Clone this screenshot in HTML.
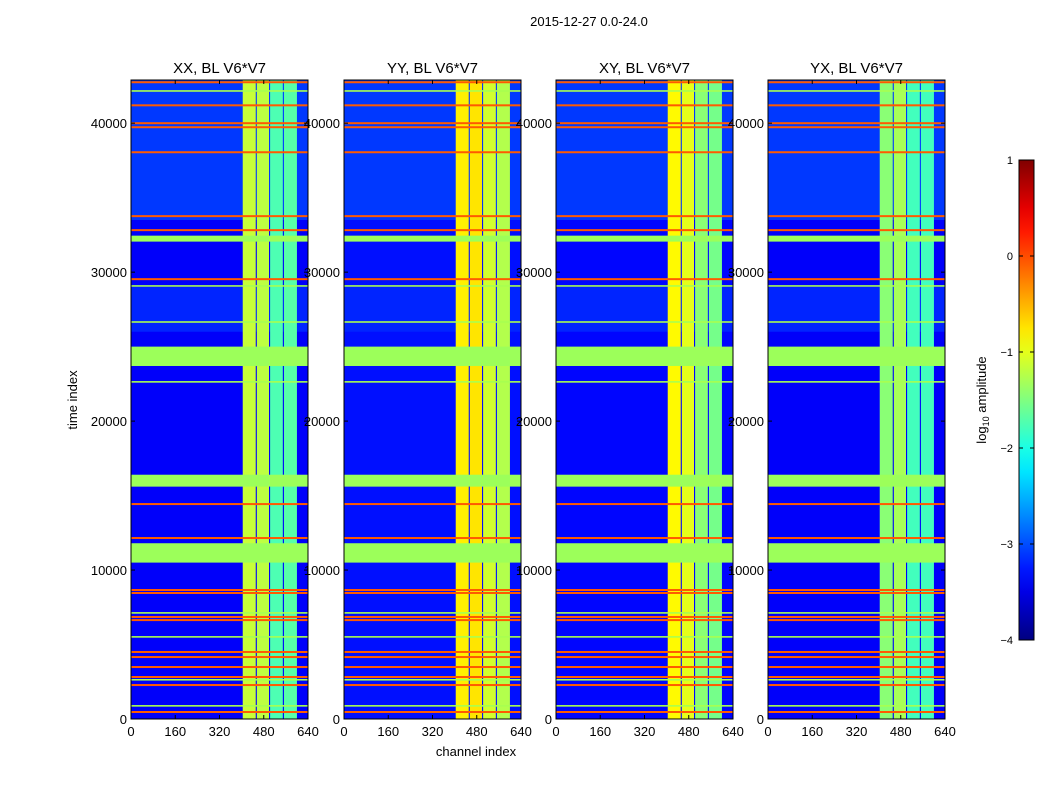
<!DOCTYPE html>
<html><head><meta charset="utf-8">
<style>
body{margin:0;background:#fff;width:1050px;height:800px;overflow:hidden;font-family:"Liberation Sans",sans-serif}
svg text{font-family:"Liberation Sans",sans-serif;fill:#000}
</style></head>
<body>
<svg id="fig" width="1050" height="800">
<text x="589" y="26" font-size="13" text-anchor="middle">2015-12-27 0.0-24.0</text>
<text x="476" y="756" font-size="13" text-anchor="middle">channel index</text>
<text x="77" y="400" font-size="13" text-anchor="middle" transform="rotate(-90 77 400)">time index</text>
<g id="panels"></g>
<g id="cbar"></g>
</svg>
<script>
const panelTitles=["XX, BL V6*V7","YY, BL V6*V7","XY, BL V6*V7","YX, BL V6*V7"];
const panelLefts=[131,344,556,768];
const xTicks=[0,160,320,480,640];
const yTicks=[0,10000,20000,30000,40000];
const bgLevel=[-3.4,-3.3,-3.35,-3.4];
const bgSegments=[[33500,42900,-3.1],[26000,29000,-3.2]];
const chanBands=[[404,451],[455,499],[503,549],[553,600]];
const bandLevels=[[-1.15,-1.2,-1.75,-1.7],[-0.8,-0.75,-1.1,-1.25],[-0.85,-1.0,-1.45,-1.55],[-1.45,-1.3,-1.8,-1.8]];
const rfiOrange=[42750,41200,40000,39730,38050,33760,32820,29530,14430,12150,8660,8460,6850,6640,4500,4160,3490,2820,2280,470];
const rfiGreen=[42150,29060,26640,22620,7110,5500,2620,870];
const flagged=[[32050,32450],[23700,25000],[15600,16400],[10500,11800]];
const cbTicks=[1,0,-1,-2,-3,-4];
const cbTickLabels=["1","0","\u22121","\u22122","\u22123","\u22124"];

const TMAX=42900,TOP=80,BOT=719,W=177;
const yS=t=>BOT-(t/TMAX)*(BOT-TOP);
const NS="http://www.w3.org/2000/svg";
function jet(v){let x=(v+4)/5;x=Math.max(0,Math.min(1,x));
 const c=f=>Math.round(255*Math.max(0,Math.min(1,f)));
 const r=c(Math.min(4*x-1.5,-4*x+4.5)),g=c(Math.min(4*x-0.5,-4*x+3.5)),b=c(Math.min(4*x+0.5,-4*x+2.5));
 return `rgb(${r},${g},${b})`;}
function el(tag,attrs,parent){const e=document.createElementNS(NS,tag);for(const k in attrs)e.setAttribute(k,attrs[k]);parent.appendChild(e);return e;}
const panels=document.getElementById('panels');
panelLefts.forEach((L,p)=>{
 const xS=ch=>L+ch/640*W;
 const g=el('g',{},panels);
 
 
 const bg=el('rect',{x:L,y:TOP,width:W,height:BOT-TOP,fill:jet(bgLevel[p])},g);
 
 
 bgSegments.forEach(s=>{const r=el('rect',{x:L,y:yS(s[1]),width:W,height:yS(s[0])-yS(s[1]),fill:jet(s[2])},g);
  
  });
 chanBands.forEach((b,i)=>{const r=el('rect',{x:xS(b[0]),y:TOP,width:xS(b[1])-xS(b[0]),height:BOT-TOP,fill:jet(bandLevels[p][i])},g);
  
  });
 rfiGreen.forEach(t=>{const r=el('rect',{x:L,y:yS(t)-1,width:W,height:1.6,fill:'#a8ff50'},g);
  
  });
 rfiOrange.forEach(t=>{const r=el('rect',{x:L,y:yS(t)-1,width:W,height:2,fill:'#ff5a00'},g);
  
  });
 flagged.forEach(f=>{const r=el('rect',{x:L,y:yS(f[1]),width:W,height:yS(f[0])-yS(f[1]),fill:'#9cff5a'},g);
  
  });
 el('rect',{x:L,y:TOP,width:W,height:BOT-TOP,fill:'none',stroke:'#000','stroke-width':1},g);
 const tt=el('text',{x:L+W/2,y:73,'font-size':15,'text-anchor':'middle'},g);tt.textContent=panelTitles[p];
 
 
 xTicks.forEach(v=>{const x=xS(v);el('line',{x1:x,x2:x,y1:BOT,y2:BOT-4,stroke:'#000'},g);el('line',{x1:x,x2:x,y1:TOP,y2:TOP+4,stroke:'#000'},g);
  const t=el('text',{x:x,y:BOT+17,'font-size':13,'text-anchor':'middle'},g);t.textContent=v;
  
  });
 yTicks.forEach(v=>{const y=yS(v);el('line',{x1:L,x2:L+4,y1:y,y2:y,stroke:'#000'},g);el('line',{x1:L+W,x2:L+W-4,y1:y,y2:y,stroke:'#000'},g);
  const t=el('text',{x:L-4,y:y+5,'font-size':13,'text-anchor':'end'},g);t.textContent=v;
  
  });
});
const cb=document.getElementById('cbar');
const CT=160,CB=640,CX=1019,CW=15;
const cyS=v=>CB-(v+4)/5*(CB-CT);
const defs=el('defs',{},cb);
const gr=el('linearGradient',{id:'jetg',x1:0,y1:1,x2:0,y2:0},defs);
for(let i=0;i<=20;i++){const v=-4+i*5/20;el('stop',{offset:i/20,'stop-color':jet(v)},gr);}
el('rect',{x:CX,y:CT,width:CW,height:CB-CT,fill:'url(#jetg)',stroke:'#000'},cb);
cbTicks.forEach((v,i)=>{const y=cyS(v);el('line',{x1:CX,x2:CX+4,y1:y,y2:y,stroke:'#000'},cb);el('line',{x1:CX+CW,x2:CX+CW-4,y1:y,y2:y,stroke:'#000'},cb);
 const t=el('text',{x:1013,y:y+4,'font-size':11,'text-anchor':'end'},cb);t.textContent=cbTickLabels[i];
 
 });
const cl=el('text',{x:986,y:400,'font-size':13,'text-anchor':'middle',transform:'rotate(-90 986 400)'},cb);
cl.innerHTML='log<tspan font-size="9" dy="3">10</tspan><tspan dy="-3"> amplitude</tspan>';


</script>
</body></html>
